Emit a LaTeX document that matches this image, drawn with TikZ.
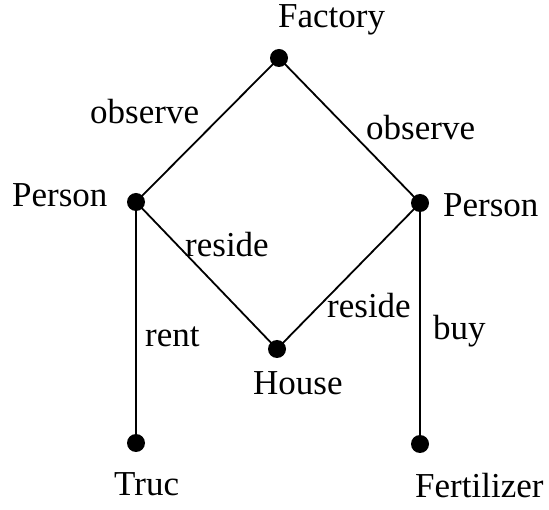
\documentclass[tikz,border=0pt]{standalone}
\usepackage{fontspec}
\setmainfont{Liberation Serif}
\tikzset{
  dot/.style={circle,fill=black,inner sep=0pt,minimum size=18pt},
  lbl/.style={anchor=base west,inner sep=0pt,font=\fontsize{35}{40}\selectfont},
  edge/.style={line width=1.8pt}
}
\begin{document}
\begin{tikzpicture}[x=1pt,y=-1pt]
\useasboundingbox (0,0) rectangle (549,510);
\node[dot] (fac) at (279,58) {};
\node[dot] (pl) at (136,202) {};
\node[dot] (pr) at (420,203) {};
\node[dot] (hou) at (277,349) {};
\node[dot] (tru) at (136,443) {};
\node[dot] (fer) at (420,444) {};
\draw[edge] (fac.center) -- (pl.center);
\draw[edge] (fac.center) -- (pr.center);
\draw[edge] (pl.center) -- (hou.center);
\draw[edge] (pr.center) -- (hou.center);
\draw[edge] (pl.center) -- (tru.center);
\draw[edge] (pr.center) -- (fer.center);
\node[lbl] (tfac) at (278,28) {Factory};
\node[lbl] (tpl) at (12,207) {Person};
\node[lbl] (tpr) at (443,217) {Person};
\node[lbl] (thou) at (253,395) {House};
\node[lbl] (ttru) at (114,495) {Truc};
\node[lbl] (tfer) at (415,497) {Fertilizer};
\node[lbl] (obl) at (90,124) {observe};
\node[lbl] (obr) at (366,140) {observe};
\node[lbl] (rsl) at (185,257) {reside};
\node[lbl] (rsr) at (327,318) {reside};
\node[lbl] (rent) at (145,347) {rent};
\node[lbl] (buy) at (433,340) {buy};
\end{tikzpicture}
\end{document}
